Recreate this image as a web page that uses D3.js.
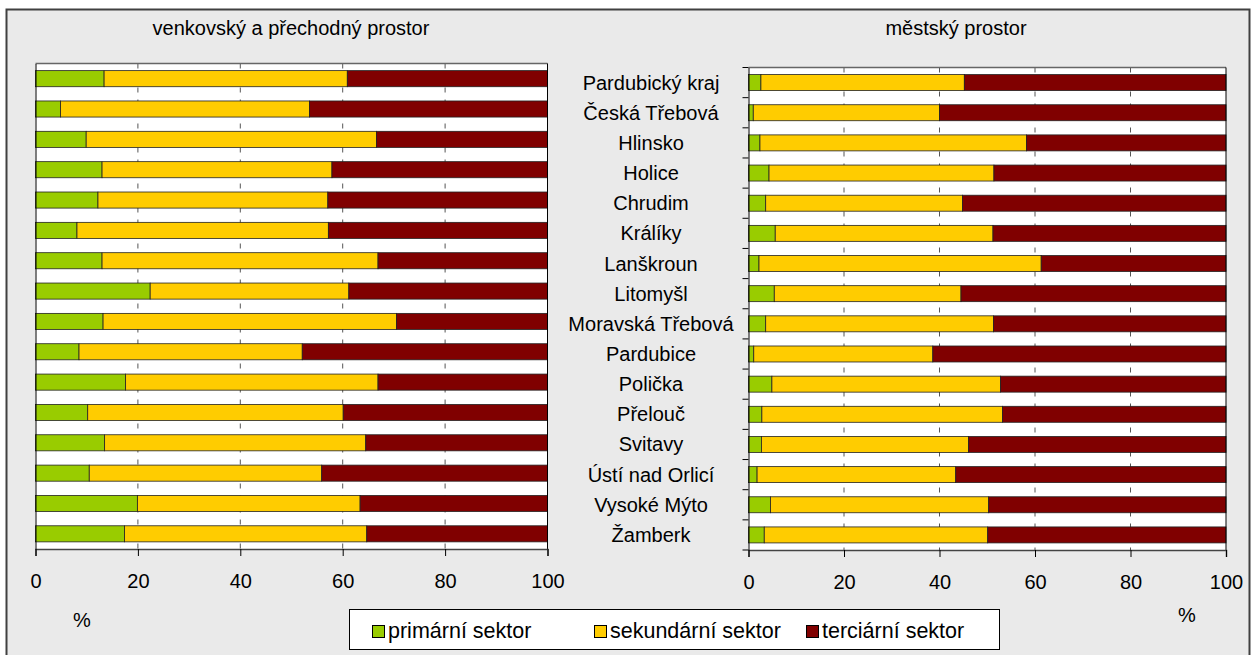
<!DOCTYPE html>
<html lang="cs">
<meta charset="utf-8">
<script src="https://d3js.org/d3.v7.min.js"></script>
<style>
  body { margin: 0; background: #fff; }
  text { font-family: "Liberation Sans", Arial, sans-serif; fill: #000; }
</style>
<svg id="base" width="1253" height="655"></svg>

<script>
    // categories (top to bottom)
    var regions = ["Pardubický kraj", "Česká Třebová", "Hlinsko", "Holice", "Chrudim", "Králíky",
        "Lanškroun", "Litomyšl", "Moravská Třebová", "Pardubice", "Polička", "Přelouč",
        "Svitavy", "Ústí nad Orlicí", "Vysoké Mýto", "Žamberk"];

    // venkovský a přechodný prostor (%)
    var ruralPrimary   = [13.4, 4.9, 9.9, 13.0, 12.2, 8.1, 13.0, 22.4, 13.2, 8.5, 17.6, 10.2, 13.5, 10.5, 19.9, 17.4];
    var ruralSecondary = [47.5, 48.6, 56.7, 44.9, 44.9, 49.1, 53.9, 38.8, 57.3, 43.6, 49.3, 49.9, 51.0, 45.4, 43.5, 47.3];
    var ruralTertiary  = [39.1, 46.5, 33.4, 42.1, 42.9, 42.8, 33.1, 38.8, 29.5, 47.9, 33.1, 39.9, 35.5, 44.1, 36.6, 35.3];

    // městský prostor (%)
    var urbanPrimary   = [2.6, 1.0, 2.4, 4.3, 3.6, 5.6, 2.2, 5.4, 3.6, 1.1, 4.9, 2.8, 2.7, 1.8, 4.6, 3.3];
    var urbanSecondary = [42.6, 39.0, 55.8, 47.1, 41.2, 45.6, 59.1, 39.1, 47.7, 37.5, 47.9, 50.4, 43.4, 41.6, 45.7, 46.8];
    var urbanTertiary  = [54.8, 60.0, 41.8, 48.6, 55.2, 48.8, 38.7, 55.5, 48.7, 61.4, 47.2, 46.8, 53.9, 56.6, 49.7, 49.9];

    var sectors = ["primární sektor", "sekundární sektor", "terciární sektor"];
    var colors = ["#99cc00", "#ffcc00", "#800000"];
    var xTicks = [0, 20, 40, 60, 80, 100];

    var svg = d3.select("#base");

    // background frame
    svg.append("rect")
        .attr("x", 6.5).attr("y", 9.5)
        .attr("width", 1243).attr("height", 660)
        .attr("fill", "#eaeaea")
        .attr("stroke", "#404040")
        .attr("stroke-width", 2);

    function drawPanel(opt) {
        var x = d3.scaleLinear().domain([0, 100]).range([opt.left, opt.right]);
        var y = d3.scaleBand().domain(regions)
            .range([opt.top, opt.bottom])
            .paddingInner(0.47).paddingOuter(0.235);

        var g = svg.append("g");

        g.append("rect")
            .attr("x", opt.left).attr("y", opt.top)
            .attr("width", opt.right - opt.left).attr("height", opt.bottom - opt.top)
            .attr("fill", "#fff");

        // dashed grid
        g.selectAll(".grid")
            .data(xTicks.slice(1, -1))
            .enter().append("line")
            .attr("x1", function (d) { return x(d); })
            .attr("x2", function (d) { return x(d); })
            .attr("y1", opt.top).attr("y2", opt.bottom)
            .attr("stroke", "#555")
            .attr("stroke-dasharray", "5,7");

        g.append("line")
            .attr("x1", opt.left).attr("x2", opt.right)
            .attr("y1", opt.top).attr("y2", opt.top)
            .attr("stroke", "#666").attr("stroke-width", 1.5);

        // stacked bars
        var rows = regions.map(function (r, i) {
            return { region: r, vals: [opt.p[i], opt.s[i], opt.t[i]] };
        });
        rows.forEach(function (row) {
            var acc = 0;
            row.vals.forEach(function (v, k) {
                g.append("rect")
                    .attr("x", x(acc))
                    .attr("y", y(row.region))
                    .attr("width", x(acc + v) - x(acc))
                    .attr("height", y.bandwidth())
                    .attr("fill", colors[k])
                    .attr("stroke", "#222")
                    .attr("stroke-width", 0.8);
                acc += v;
            });
        });

        // right border
        g.append("line")
            .attr("x1", opt.right).attr("x2", opt.right)
            .attr("y1", opt.top).attr("y2", opt.bottom)
            .attr("stroke", "#000");

        // x axis
        var ax = g.append("g")
            .attr("transform", "translate(0," + opt.bottom + ")")
            .call(d3.axisBottom(x).tickValues(xTicks).tickSize(7).tickPadding(18));
        ax.select(".domain").attr("stroke", "#444").attr("stroke-width", 1.5);
        ax.selectAll(".tick line").attr("stroke", "#000");
        ax.selectAll("text").style("font-size", "20px")
            .style("font-family", "'Liberation Sans', Arial, sans-serif");

        // y axis
        var ay = g.append("g")
            .attr("transform", "translate(" + opt.left + ",0)")
            .call(d3.axisLeft(y).tickSize(0).tickFormat(""));
        ay.select(".domain").attr("stroke", "#000");
        if (opt.yTicks) {
            var edges = regions.map(function (r) { return y(r) - y.step() * 0.235; });
            edges.push(opt.bottom);
            g.selectAll(".ytick")
                .data(edges)
                .enter().append("line")
                .attr("x1", opt.left - 6).attr("x2", opt.left)
                .attr("y1", function (d) { return d; })
                .attr("y2", function (d) { return d; })
                .attr("stroke", "#000");
        }

        // title
        svg.append("text")
            .attr("x", opt.titleX)
            .attr("y", 35)
            .attr("text-anchor", "middle")
            .style("font-size", "20px")
            .text(opt.title);

        return y;
    }

    drawPanel({
        left: 35.5, right: 547.5, top: 63.5, bottom: 549,
        p: ruralPrimary, s: ruralSecondary, t: ruralTertiary,
        title: "venkovský a přechodný prostor", titleX: 291
    });

    var yR = drawPanel({
        left: 748.5, right: 1226, top: 67.5, bottom: 550,
        p: urbanPrimary, s: urbanSecondary, t: urbanTertiary,
        title: "městský prostor", titleX: 956, yTicks: true
    });

    // category labels between panels
    svg.selectAll(".cat")
        .data(regions)
        .enter().append("text")
        .attr("x", 651)
        .attr("y", function (d) { return yR(d) + yR.bandwidth() / 2; })
        .attr("dy", "0.35em")
        .attr("text-anchor", "middle")
        .style("font-size", "20px")
        .text(function (d) { return d; });

    // % labels
    svg.append("text").attr("x", 82).attr("y", 627).attr("text-anchor", "middle")
        .style("font-size", "20px").text("%");
    svg.append("text").attr("x", 1187).attr("y", 622).attr("text-anchor", "middle")
        .style("font-size", "20px").text("%");

    // legend
    var legend = svg.append("g");
    legend.append("rect")
        .attr("x", 349.5).attr("y", 609.5)
        .attr("width", 650).attr("height", 40)
        .attr("fill", "#fff").attr("stroke", "#000");
    var legendX = [372, 594, 806];
    sectors.forEach(function (s, i) {
        legend.append("rect")
            .attr("x", legendX[i] + 0.5).attr("y", 625.5)
            .attr("width", 12).attr("height", 12)
            .attr("fill", colors[i]).attr("stroke", "#000");
        legend.append("text")
            .attr("x", legendX[i] + 16).attr("y", 638)
            .style("font-size", "21.5px")
            .text(s);
    });
</script>
</html>
